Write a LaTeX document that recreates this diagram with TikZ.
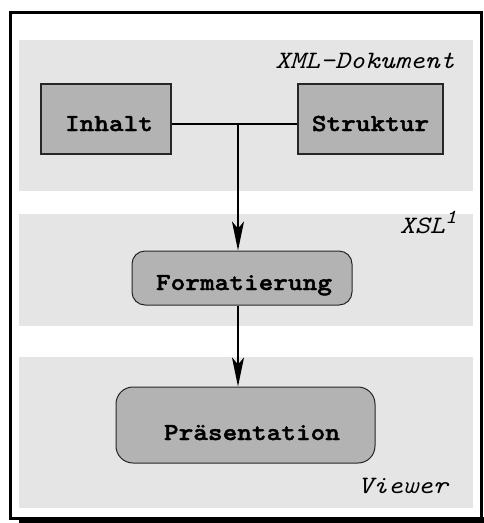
\documentclass[tikz,border=0pt]{standalone}
\usepackage{fontspec}
% slab-serif typewriter, widened to a Courier-like advance
\setmonofont{lmmono10-regular.otf}[FakeStretch=1.14, BoldFont=lmmonolt10-bold.otf,
  BoldFeatures={FakeBold=1.6}, ItalicFont=lmmono10-italic.otf]
\usetikzlibrary{arrows.meta}
\definecolor{panelgray}{HTML}{E5E5E5}
\definecolor{boxgray}{HTML}{B3B3B3}
\tikzset{
  panel/.style={fill=panelgray, draw=none},
  squarebox/.style={draw=black!85, line width=2pt, fill=boxgray, inner sep=0pt,
    font=\ttfamily\bfseries\fontsize{24.5}{24.5}\selectfont, text height=24pt, text depth=0pt},
  roundbox/.style={draw=black!85, line width=1pt, fill=boxgray, inner sep=0pt,
    font=\ttfamily\bfseries\fontsize{24.5}{24.5}\selectfont, text depth=0pt},
  layerlabel/.style={anchor=base east, inner sep=0pt,
    font=\ttfamily\itshape\fontsize{25}{25}\selectfont},
  link/.style={line width=2.2pt},
  flow/.style={line width=2.2pt, -{Stealth[length=29pt, width=12pt, inset=7pt]}}
}
\begin{document}
\begin{tikzpicture}[x=1pt, y=-1pt]
  \useasboundingbox (0,0) rectangle (484,523);

  % outer frame with heavy bottom edge
  \draw[line width=3pt] (10.5,12) rectangle (481.5,518.5);
  \fill[black] (19,517) rectangle (484,523);

  % layer panels
  \fill[panel] (19,40) rectangle (473,191);
  \fill[panel] (19,214) rectangle (473,326);
  \fill[panel] (19,357) rectangle (473,508);

  % layer captions
  \node[layerlabel] (lxml) at (455,68) {XML-Dokument};
  \node[layerlabel] (lxsl) at (457,233) {XSL\raisebox{0.4em}{\fontsize{20}{20}\selectfont 1}};
  \node[layerlabel] (lview) at (448,493) {Viewer};

  % boxes
  \node[squarebox, minimum width=130pt, minimum height=70pt] (inhalt) at (106,119) {\hspace{6pt}Inhalt};
  \node[squarebox, minimum width=145pt, minimum height=70pt] (struktur) at (370.5,119) {Struktur\hspace{9pt}};
  \node[roundbox, rounded corners=13pt, minimum width=220pt, minimum height=54pt,
        text height=24pt] (format) at (242,278) {\hspace{4pt}Formatierung};
  \node[roundbox, rounded corners=17pt, minimum width=259pt, minimum height=76pt,
        text height=30pt] (praes) at (245.5,425) {\hspace{13pt}Präsentation};

  % connectors
  \coordinate (join) at (238,124);
  \draw[link] (inhalt.east |- join) -- (struktur.west |- join);
  \draw[flow] (join) -- (join |- format.north);
  \draw[flow] (join |- format.south) -- (join |- praes.north);
\end{tikzpicture}
\end{document}
